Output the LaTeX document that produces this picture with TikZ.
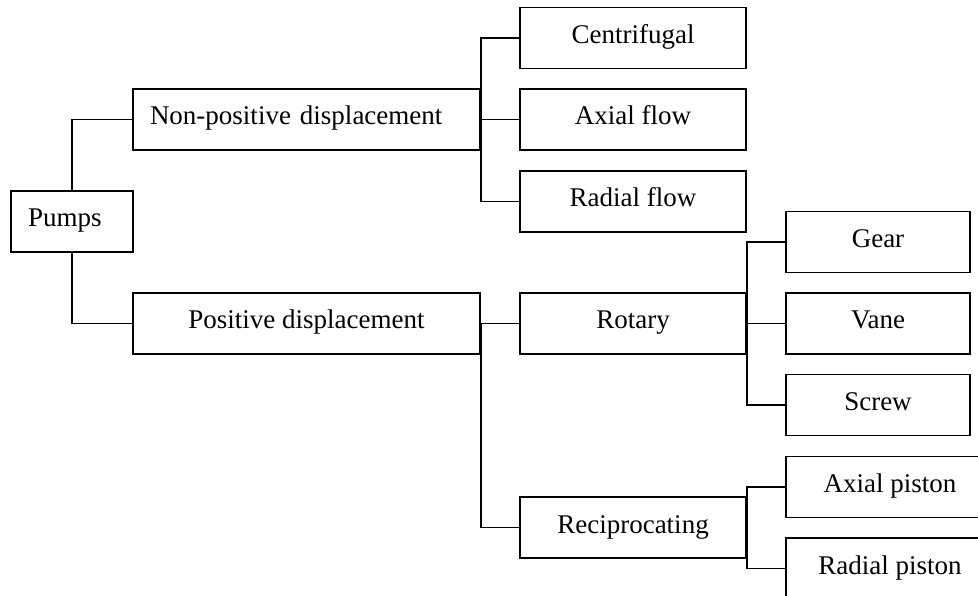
\documentclass[tikz,border=0pt]{standalone}
\usepackage{fontspec}
\setmainfont{Liberation Serif}
\begin{document}
\begin{tikzpicture}[x=1pt,y=-1pt,
    box/.style={draw=black,line width=1.8pt,minimum height=61pt,inner sep=0pt,minimum width=#1,text height=19pt,text depth=8pt},
    leftbox/.style={draw=black,line width=1.8pt,minimum height=61pt,inner ysep=0pt,inner xsep=17pt,text width=#1,align=left,text height=19pt,text depth=8pt},
    link/.style={draw=black,line width=1.8pt}]
    \tikzstyle{every node}+=[font=\fontsize{27}{32}\selectfont]
    \clip (0,0) rectangle (978,596);
    \node [leftbox=88pt] (pumps) at (72,221.5) {Pumps};
    \node [leftbox=313pt] (nonpos) at (306.5,119.5) {Non-positive displacement};
    \node [box=347pt] (pos) at (306.5,323.5) {Positive displacement};
    \node [box=226pt] (centri) at (633,38) {Centrifugal};
    \node [box=226pt] (axial) at (633,119.5) {Axial flow};
    \node [box=226pt] (radial) at (633,201.5) {Radial flow};
    \node [box=226pt] (rotary) at (633,323.5) {Rotary};
    \node [box=226pt] (recip) at (633,527.5) {Reciprocating};
    \node [box=184pt] (gear) at (878,242) {Gear};
    \node [box=184pt] (vane) at (878,323.5) {Vane};
    \node [box=184pt] (screw) at (878,405) {Screw};
    \node [box=208pt] (apiston) at (890,487) {Axial piston};
    \node [box=208pt] (rpiston) at (890,568.5) {Radial piston};
    \draw [link] (pumps.north) |- (nonpos.west);
    \draw [link] (pumps.south) |- (pos.west);
    \draw [link] (nonpos.east) |- (centri.west);
    \draw [link] (nonpos.east) -- (axial.west);
    \draw [link] (nonpos.east) |- (radial.west);
    \draw [link] (pos.east) -- (rotary.west);
    \draw [link] (pos.east) |- (recip.west);
    \draw [link] (rotary.east) |- (gear.west);
    \draw [link] (rotary.east) -- (vane.west);
    \draw [link] (rotary.east) |- (screw.west);
    \draw [link] (recip.east) |- (apiston.west);
    \draw [link] (recip.east) |- (rpiston.west);
\end{tikzpicture}
\end{document}
